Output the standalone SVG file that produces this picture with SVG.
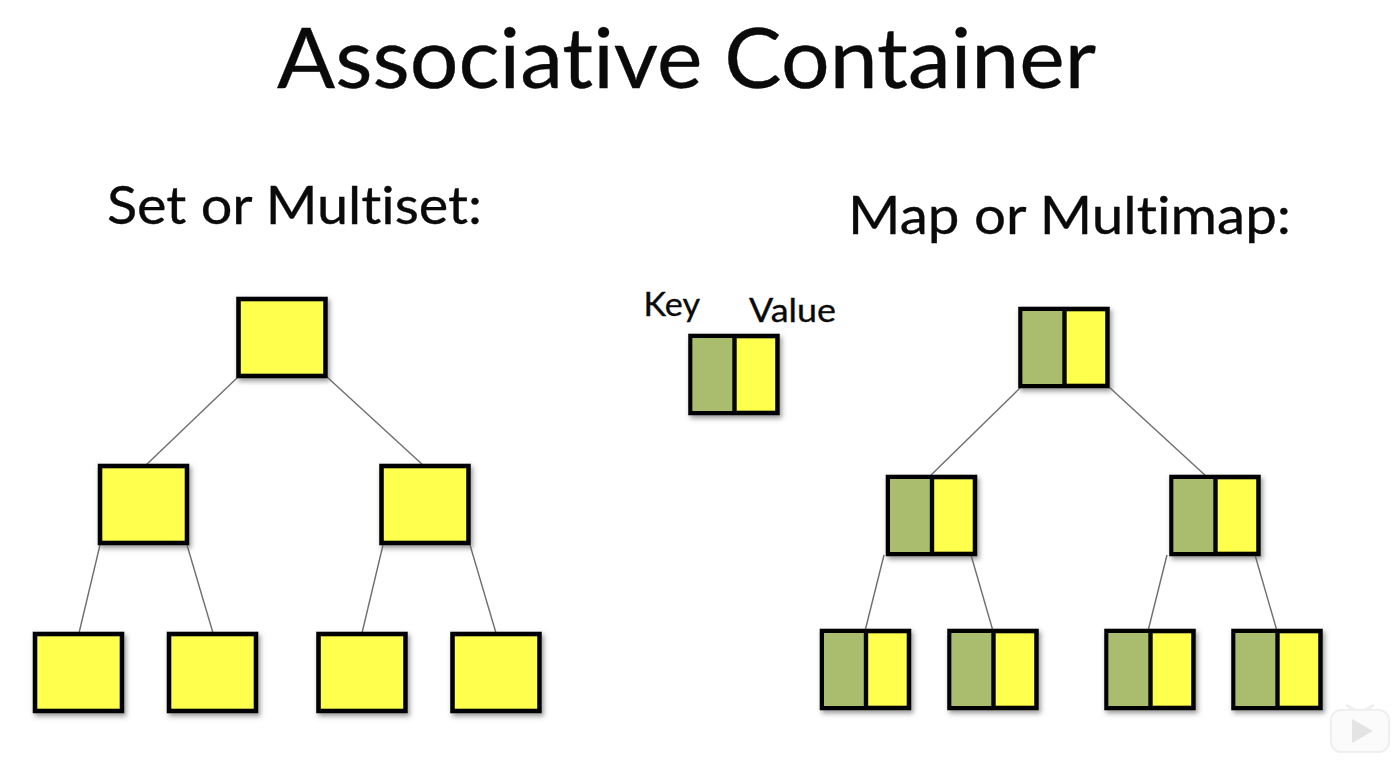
<svg xmlns="http://www.w3.org/2000/svg" width="1394" height="776" viewBox="0 0 1394 776">
<style>
text{font-family:Lato,"Open Sans","Liberation Sans",sans-serif;fill:#0a0a0a;font-variant-ligatures:none;stroke:#0a0a0a;stroke-width:.35}
.box{stroke:#050505;stroke-width:4.6;filter:url(#sh)}
.y{fill:#ffff4d}
.g{fill:#aabd6e}
.div{stroke:#050505;stroke-width:4.4}
#connectors line{stroke:#6e6e6e;stroke-width:1.4}
</style>
<defs>
<filter id="sh" x="-15%" y="-15%" width="130%" height="130%"><feDropShadow dx="2" dy="3" stdDeviation="2.5" flood-color="#555" flood-opacity="0.6"/></filter>
<g id="p"><rect class="box y" width="87" height="77"/></g>
<g id="kv"><rect class="box y" width="87" height="77"/><rect class="g" x="2" y="2" width="42" height="73"/><line class="div" x1="44" y1="0" x2="44" y2="77"/></g>
</defs>
<rect width="1394" height="776" fill="#fff"/>
<text id="title" x="277" y="88" font-size="84" textLength="819" lengthAdjust="spacingAndGlyphs">Associative Container</text>
<text id="label-set" x="107" y="224" font-size="53" textLength="375" lengthAdjust="spacingAndGlyphs">Set or Multiset:</text>
<text id="label-map" x="848" y="234" font-size="53" textLength="443" lengthAdjust="spacingAndGlyphs">Map or Multimap:</text>
<text id="label-key" x="643.500" y="316" font-size="32" textLength="56.500" lengthAdjust="spacingAndGlyphs">Key</text>
<text id="label-value" x="749" y="322" font-size="32" textLength="87" lengthAdjust="spacingAndGlyphs">Value</text>
<g id="connectors">
<line x1="238" y1="377" x2="145" y2="466"/><line x1="327" y1="377" x2="424" y2="466"/>
<line x1="100" y1="545" x2="79" y2="633"/><line x1="187" y1="545" x2="213" y2="633"/>
<line x1="383" y1="545" x2="362" y2="633"/><line x1="470" y1="545" x2="496" y2="633"/>
<line x1="1021" y1="387" x2="929" y2="477"/><line x1="1109" y1="387" x2="1207" y2="477"/>
<line x1="884" y1="555" x2="865" y2="631"/><line x1="971" y1="555" x2="993" y2="631"/>
<line x1="1167" y1="555" x2="1148" y2="631"/><line x1="1255" y1="555" x2="1277" y2="631"/>
</g>
<use id="s-root" href="#p" x="238.500" y="299"/>
<use id="s-l" href="#p" x="100" y="466"/>
<use id="s-r" href="#p" x="381.500" y="466"/>
<use id="s-ll" href="#p" x="35" y="634"/>
<use id="s-lr" href="#p" x="169" y="634"/>
<use id="s-rl" href="#p" x="318.500" y="634"/>
<use id="s-rr" href="#p" x="452.500" y="634"/>
<use id="legend" href="#kv" x="690.500" y="336"/>
<use id="m-root" href="#kv" x="1020.500" y="309"/>
<use id="m-l" href="#kv" x="888" y="477"/>
<use id="m-r" href="#kv" x="1171.500" y="477"/>
<use id="m-ll" href="#kv" x="822" y="631"/>
<use id="m-lr" href="#kv" x="949.500" y="631"/>
<use id="m-rl" href="#kv" x="1106.500" y="631"/>
<use id="m-rr" href="#kv" x="1233.500" y="631"/>
<g id="watermark" fill="none" stroke="#efefef" stroke-width="2">
<rect x="1331" y="710" width="58" height="42" rx="10" fill="#fbfbfb"/>
<path d="M1346 705l9 5M1374 705l-9 5" stroke-width="3"/>
<path d="M1352 719v24l21-12z" fill="#e4e4e4" stroke="none"/>
</g>
</svg>
